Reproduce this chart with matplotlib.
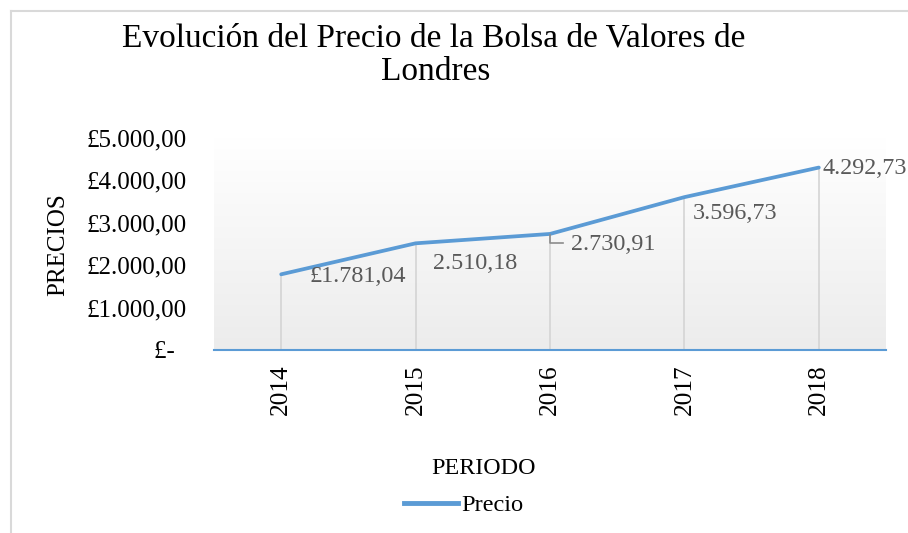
import numpy as np
import matplotlib
matplotlib.use("Agg")
import matplotlib.pyplot as plt
from matplotlib.lines import Line2D
from matplotlib.colors import LinearSegmentedColormap

plt.rcParams['font.family'] = ['Liberation Serif', 'DejaVu Serif']

years = ["2014", "2015", "2016", "2017", "2018"]
precios = [1781.04, 2510.18, 2730.91, 3596.73, 4292.73]
labels = ["£1.781,04", "2.510,18", "2.730,91", "3.596,73", "4.292,73"]
yticks = [0, 1000, 2000, 3000, 4000, 5000]
ytick_labels = ["£-  ", "£1.000,00", "£2.000,00", "£3.000,00", "£4.000,00", "£5.000,00"]

W, H = 908, 533
fig = plt.figure(figsize=(W / 100, H / 100), dpi=100)

left, right, top, bottom = 214, 886, 137.5, 350
ax = fig.add_axes([left / W, 1 - bottom / H, (right - left) / W, (bottom - top) / H])

blue = "#5B9BD5"
x = np.arange(len(years))

# gradient background
cmap = LinearSegmentedColormap.from_list("g", ["#ececec", "#ffffff"])
grad = np.linspace(0, 1, 256).reshape(-1, 1)
ax.imshow(grad, cmap=cmap, aspect="auto", extent=[0, 1, 0, 1],
          transform=ax.transAxes, origin="lower", zorder=0)

ax.vlines(x, 0, precios, color="#d4d4d4", lw=1.2, zorder=1)
ax.plot(x, precios, color=blue, lw=2.7, solid_capstyle="round",
        solid_joinstyle="round", zorder=3, label="Precio")

ax.set_xlim(-0.5, len(years) - 0.5)
ax.set_ylim(0, 5000)

offsets = [(28, -2), (17, -20), (21, -11), (8, -16), (4, -1)]
for xi, v, lab, off in zip(x, precios, labels, offsets):
    ax.annotate(lab, (xi, v), xytext=off, textcoords="offset pixels",
                ha="left", va="center", fontsize=17.4, color="#595959", zorder=4)

# leader line for third label
px, py = ax.transData.transform((2, precios[2]))
fig.add_artist(Line2D([px / W, px / W, (px + 13) / W],
                      [(py - 1) / H, (py - 9) / H, (py - 9) / H],
                      transform=fig.transFigure, color="#8c8c8c", lw=1.2))

ax.set_xticks(x)
ax.set_xticklabels(years, rotation=90, fontsize=18.2, va="top")
ax.set_yticks(yticks)
ax.set_yticklabels(ytick_labels, fontsize=18)
ax.tick_params(axis="x", length=0, pad=10)
ax.tick_params(axis="y", length=0, pad=19.5)

for s in ["top", "right", "left"]:
    ax.spines[s].set_visible(False)
ax.spines["bottom"].set_color(blue)
ax.spines["bottom"].set_linewidth(1.5)
ax.spines["bottom"].set_zorder(5)

fig.text(58 / W, 1 - 245 / H, "PRECIOS", rotation=90, ha="center", va="center", fontsize=18)
fig.text(484 / W, 1 - 468 / H, "PERIODO", ha="center", va="center", fontsize=17.3)
fig.text(434 / W, 1 - 38 / H, "Evolución del Precio de la Bolsa de Valores de",
         ha="center", va="center", fontsize=24)
fig.text(436 / W, 1 - 72 / H, "Londres", ha="center", va="center", fontsize=24)

fig.legend(handles=[Line2D([], [], color=blue, lw=3.5)], labels=["Precio"],
           loc="center", bbox_to_anchor=(464 / W, 1 - 505 / H), frameon=False,
           fontsize=17.6, handlelength=2.2, handletextpad=0.15)

# chart border (left and top)
fig.add_artist(Line2D([11 / W, 11 / W], [0, 1 - 11 / H], transform=fig.transFigure,
                      color="#d9d9d9", lw=1.5))
fig.add_artist(Line2D([11 / W, 1], [1 - 11 / H, 1 - 11 / H], transform=fig.transFigure,
                      color="#d9d9d9", lw=1.5))

fig.savefig("out.png", dpi=100)
